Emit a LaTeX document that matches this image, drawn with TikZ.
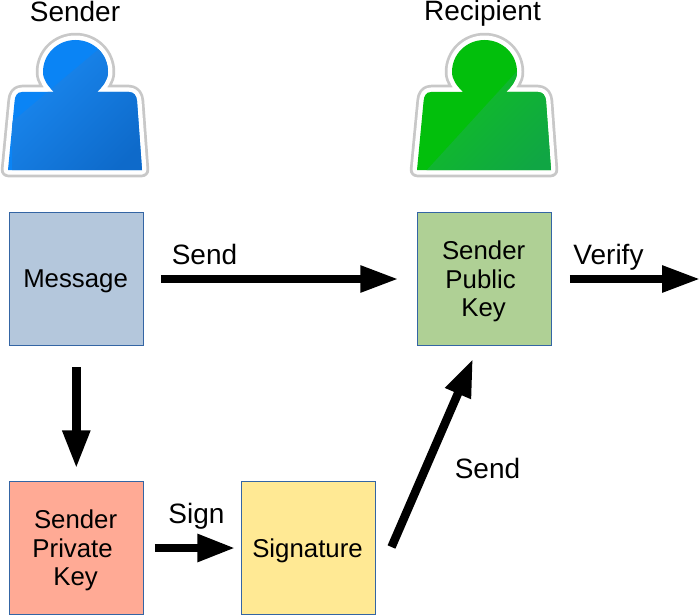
\documentclass[tikz,border=0pt]{standalone}
\usepackage{fontspec}
\setmainfont{Liberation Sans}
\usetikzlibrary{arrows.meta}
\definecolor{boxline}{HTML}{3465A4}
\definecolor{grayline}{HTML}{C8C8C8}
\tikzset{
  box/.style={draw=boxline,line width=0.7pt,minimum width=133.4pt,minimum height=133.5pt,inner sep=0pt},
  boxtext/.style={label={[inner sep=0pt,align=center,xshift=-0.7pt,yshift=-2.6pt,font=\fontsize{25.8}{28.6}\selectfont]center:#1}},
  lab/.style={inner sep=0pt,font=\fontsize{28}{32}\selectfont},
  bigarrow/.style={line width=8.5pt,shorten >=-2.5pt,-{Triangle[length=38.5pt,width=25pt]}},
  midarrow/.style={line width=8.5pt,shorten >=-2.5pt,-{Triangle[length=38pt,width=26pt]}},
}
% person silhouette: #1 = x offset
\newcommand{\personpath}[1]{%
  (#1+22,92) .. controls (#1+17,92) and (#1+15,96) .. (#1+14.6,101)
  -- (#1+8,170) -- (#1+142,170) -- (#1+137,101)
  .. controls (#1+136.6,96) and (#1+134,92) .. (#1+129,92)
  -- (#1+97,92)
  .. controls (#1+103,86) and (#1+108,80) .. (#1+108,72)
  .. controls (#1+108,54) and (#1+93.5,40) .. (#1+75.5,40)
  .. controls (#1+57.5,40) and (#1+43,54) .. (#1+43,72)
  .. controls (#1+43,80) and (#1+48,86) .. (#1+54,92)
  -- cycle}
\begin{document}
\begin{tikzpicture}[x=1pt,y=-1pt]
\useasboundingbox (0,0) rectangle (700,615);
% sender figure
\draw[grayline,line width=14.5pt,line join=round] \personpath{0};
\draw[white,line width=9pt,line join=round] \personpath{0};
\fill[fill={rgb,255:red,10;green,132;blue,245}] \personpath{0};
\begin{scope}
  \clip \personpath{0};
  \shade[top color={rgb,255:red,26;green,136;blue,240},middle color={rgb,255:red,26;green,128;blue,226},bottom color={rgb,255:red,14;green,106;blue,202},shading angle=45] (12,122) -- (100,48) -- (150,48) -- (150,175) -- (12,175) -- cycle;
\end{scope}
% recipient figure
\draw[grayline,line width=14.5pt,line join=round] \personpath{409};
\draw[white,line width=9pt,line join=round] \personpath{409};
\fill[fill={rgb,255:red,2;green,191;blue,12}] \personpath{409};
\begin{scope}
  \clip \personpath{409};
  \shade[top color={rgb,255:red,16;green,192;blue,36},middle color={rgb,255:red,20;green,186;blue,52},bottom color={rgb,255:red,16;green,166;blue,68},shading angle=45] (425,172) -- (520,68) -- (560,68) -- (560,175) -- cycle;
\end{scope}
% titles
\node[lab] (sendertitle) at (75,11.5) {Sender};
\node[lab] (recipienttitle) at (482.5,13.5) {Recipient};
% boxes
\node[box,fill={rgb,255:red,180;green,199;blue,220},boxtext={Message}] (message) at (76.3,279) {};
\node[box,fill={rgb,255:red,175;green,208;blue,149},boxtext={Sender\\\mbox{Public\hspace{6pt}}\\Key}] (public) at (484.3,279) {};
\node[box,fill={rgb,255:red,255;green,170;blue,149},boxtext={Sender\\\mbox{Private\hspace{6pt}}\\Key}] (private) at (76.3,548) {};
\node[box,fill={rgb,255:red,255;green,233;blue,148},minimum width=134pt,boxtext={Signature}] (signature) at (308.2,548) {};
% connector ends
\coordinate (sendA) at ([xshift=17.5pt]message.east);
\coordinate (sendB) at ([xshift=-21pt]public.west);
\coordinate (verifyA) at ([xshift=18.5pt]public.east);
\coordinate (verifyB) at (698,279);
\coordinate (downA) at ([yshift=-21pt]message.south);
\coordinate (downB) at ([yshift=15pt]private.north);
\coordinate (signA) at ([xshift=11.5pt]private.east);
\coordinate (signB) at ([xshift=-8pt]signature.west);
\coordinate (diagA) at (391.5,547);
\coordinate (diagB) at (472,361);
% connectors
\draw[bigarrow] (sendA) -- (sendB);
\draw[bigarrow] (verifyA) -- (verifyB);
\draw[midarrow] (downA) -- (downB);
\draw[midarrow] (signA) -- (signB);
\draw[midarrow] (diagA) -- (diagB);
% labels
\node[lab] (sendlab) at (204.5,254.5) {Send};
\node[lab] (verifylab) at (608.5,257) {Verify};
\node[lab] (signlab) at (196.5,516) {Sign};
\node[lab] (sendlabb) at (487.5,468) {Send};
\end{tikzpicture}
\end{document}
